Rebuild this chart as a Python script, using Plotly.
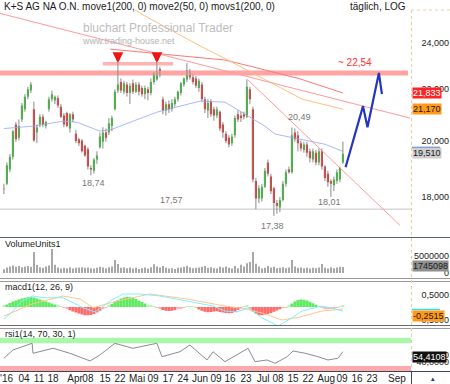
import plotly.graph_objects as go
import numpy as np

W, H = 450, 384
def PX(p): return p / W
def PY(p): return 1 - p / H

# ---------------- data ----------------
opens = [18.28,18.45,18.95,19.40,20.60,20.10,20.80,21.20,21.70,21.95,
         21.20,20.30,20.60,20.90,20.55,21.20,21.60,21.55,21.65,21.30,
         20.95,21.05,20.45,21.00,20.25,20.05,20.00,19.80,19.68,19.00,
         18.90,19.30,19.75,19.95,20.30,20.30,20.55,21.20,21.95,22.30,
         21.90,22.20,21.85,22.25,21.90,22.20,22.05,21.80,22.00,21.85,
         22.30,22.40,22.85,21.60,21.15,21.40,21.20,21.40,21.60,21.85,
         22.20,22.40,22.75,22.50,22.45,22.05,22.20,21.60,21.15,21.50,
         21.20,20.95,21.10,20.60,20.25,20.10,19.90,20.20,21.00,20.95,
         21.00,20.90,22.00,21.20,18.55,17.95,17.95,18.35,19.20,18.70,
         18.30,17.80,17.65,17.90,18.45,18.95,18.85,20.30,20.20,19.90,
         19.65,19.85,19.60,19.30,19.55,19.20,19.60,19.05,18.80,18.55,
         18.40,18.55,18.60,19.20]
highs = [18.45,19.20,19.50,20.40,20.70,20.80,21.45,21.80,22.10,22.30,
         21.50,20.60,21.00,21.00,20.75,21.70,21.95,21.75,21.75,21.40,
         21.05,21.10,21.05,21.10,20.40,20.10,20.05,19.85,19.75,19.10,
         19.35,19.60,20.30,20.50,20.45,20.85,20.95,22.00,23.10,22.45,
         22.35,22.30,22.25,22.40,22.30,22.30,22.15,22.15,22.10,22.45,
         22.70,23.10,22.95,21.70,21.50,21.55,21.60,21.70,21.95,22.30,
         22.50,23.10,22.85,22.60,22.55,22.45,22.30,21.70,21.60,21.60,
         21.30,21.30,21.15,20.70,20.35,20.20,20.25,20.95,21.15,21.10,
         21.10,22.42,22.10,21.30,18.65,18.40,18.45,19.00,19.30,18.80,
         18.35,17.90,18.00,18.55,18.95,19.05,20.49,20.45,20.35,20.00,
         19.95,19.95,19.70,19.70,19.65,19.70,19.70,19.10,18.90,18.60,
         18.70,18.95,19.05,19.96]
lows = [18.10,18.40,18.85,19.30,19.95,20.00,20.70,21.10,21.60,21.85,
        19.95,19.90,20.50,20.50,20.45,21.10,21.50,21.40,21.25,20.85,
        20.50,20.50,20.30,20.70,19.90,19.80,19.55,19.40,18.95,18.74,
        18.80,19.15,19.70,19.70,19.95,20.20,20.35,21.15,21.85,21.85,
        21.80,21.70,21.40,21.80,21.85,21.75,21.70,21.60,21.55,21.75,
        22.20,22.35,22.50,21.00,20.95,21.05,21.10,21.30,21.50,21.75,
        22.10,22.30,22.40,22.20,22.05,21.90,21.50,21.05,20.85,20.90,
        20.75,20.85,20.35,20.10,19.90,19.75,19.80,20.10,20.70,20.70,
        20.80,20.85,21.40,18.50,17.60,17.80,17.85,18.30,18.70,18.10,
        17.38,17.45,17.50,17.85,18.35,18.80,18.80,19.95,19.60,19.60,
        19.55,19.40,19.20,19.20,19.10,19.10,18.95,18.55,18.35,18.01,
        18.20,18.45,18.50,19.15]
closes = [18.26,19.10,19.40,20.35,20.05,20.55,21.35,21.70,22.00,22.20,
          20.00,20.50,20.90,20.60,20.70,21.60,21.80,21.70,21.35,20.90,
          20.60,20.55,21.00,20.80,19.98,19.90,19.60,19.45,19.05,18.95,
          19.30,19.45,20.15,20.30,20.10,20.65,20.85,21.90,22.20,21.95,
          22.25,21.85,22.15,21.90,22.20,21.90,21.80,22.05,21.85,22.30,
          22.60,22.75,22.65,21.15,21.40,21.20,21.45,21.60,21.90,22.25,
          22.45,22.80,22.50,22.30,22.15,22.35,21.60,21.20,21.45,21.00,
          20.95,21.20,20.45,20.30,19.98,19.85,20.15,20.85,20.80,20.85,
          20.90,22.10,21.60,18.60,17.95,18.30,18.35,18.90,18.80,18.20,
          17.80,17.70,17.90,18.45,18.85,18.85,20.20,20.05,19.90,19.70,
          19.85,19.55,19.35,19.60,19.20,19.60,19.05,18.65,18.50,18.45,
          18.60,18.85,19.00,19.51]
volume_mio = [1.1,1.6,1.9,2.2,1.8,2.0,1.7,1.9,2.0,1.8,
              6.0,2.3,1.7,1.5,1.9,2.2,6.9,2.4,1.6,1.3,
              1.5,1.4,1.7,1.3,1.5,1.6,1.7,1.5,1.6,1.4,
              1.3,1.5,1.8,1.6,1.4,1.7,1.9,3.7,2.6,1.5,
              1.7,1.4,1.6,1.3,1.5,1.2,1.4,1.6,1.3,1.7,
              2.5,1.9,1.6,2.0,1.5,1.3,1.4,1.2,1.5,1.6,
              1.8,2.1,1.7,1.4,1.5,1.6,1.8,2.0,1.5,1.7,
              1.4,1.3,1.8,1.6,1.9,1.5,1.3,2.0,1.4,2.4,
              1.9,2.8,3.2,6.0,2.7,1.9,1.3,1.5,2.0,1.6,
              1.8,1.4,1.5,1.7,1.4,1.6,3.7,1.9,1.5,1.6,
              1.4,1.5,1.3,1.5,1.4,1.6,2.6,1.5,1.3,1.7,
              1.4,1.6,1.8,1.745098]
macd_hist = [0.05,0.10,0.16,0.22,0.26,0.30,0.34,0.37,0.39,0.40,
             0.38,0.34,0.30,0.26,0.22,0.18,0.14,0.10,0.06,0.03,
             -0.03,-0.08,-0.13,-0.18,-0.22,-0.26,-0.30,-0.33,-0.33,-0.32,
             -0.28,-0.22,-0.15,-0.08,-0.02,0.05,0.12,0.20,0.28,0.34,
             0.38,0.40,0.39,0.36,0.32,0.26,0.20,0.14,0.08,0.05,
             0.03,-0.03,-0.08,-0.12,-0.15,-0.16,-0.15,-0.12,-0.08,-0.05,
             -0.02,0.02,0.03,0.02,-0.04,-0.10,-0.15,-0.19,-0.21,-0.20,
             -0.18,-0.17,-0.20,-0.22,-0.24,-0.25,-0.24,-0.20,-0.12,-0.04,
             0.04,0.07,-0.05,-0.18,-0.27,-0.32,-0.33,-0.31,-0.28,-0.24,
             -0.19,-0.14,-0.09,-0.04,-0.01,0.06,0.14,0.22,0.28,0.30,
             0.29,0.26,0.21,0.15,0.09,0.03,-0.03,-0.06,-0.07,-0.06,
             -0.05,-0.03,0.03,0.07]

# line studies read as (trading-day index, value) points
ma200_x = [35.4, 48.7, 62.0, 73.7, 82.0, 98.7, 113.0]
ma200_y = [23.71, 23.54, 23.37, 23.23, 22.97, 22.43, 21.85]
ma50_x = [42.0, 47.0, 65.4, 73.7, 99.4, 113.0]
ma50_y = [25.65, 25.22, 23.85, 23.30, 21.60, 21.20]
movs_x = [0, 9.7, 19.7, 24.4, 32, 36, 43, 51, 58.7, 65.4, 73.7, 80.4, 87, 90.4, 95.4, 99.4, 107, 113]
movs_y = [20.45, 20.54, 20.73, 20.69, 20.35, 20.42, 20.73, 21.08, 21.32, 21.52, 21.48, 21.00, 20.54, 20.24, 20.12, 20.05, 19.86, 19.60]
trend1_x, trend1_y = [-1.3, 135.4], [25.34, 20.85]
trend2_x, trend2_y = [81.4, 132.0], [22.38, 17.08]
proj_x = [113.9, 119.7, 121.2, 125.0, 126.0]
proj_y = [19.03, 21.32, 20.50, 22.68, 21.80]
resist_x, resist_y = [-1.3, 134.7], [22.675, 22.675]
resist2_x, resist2_y = [33.0, 56.4], [23.07, 23.07]
support_x, support_y = [-1.3, 135.7], [17.60, 17.60]
arrow_x, arrow_y = [38, 51], [23.10, 23.10]

macd_x = [0, 3, 6, 9.7, 13, 19.7, 26.4, 30.4, 35.4, 39.7, 45.4, 52, 61, 69.7, 73.7, 77.7, 81.4, 86, 91.4, 95.4, 99.4, 106, 113]
macd_y = [-0.49, -0.16, 0.24, 0.44, 0.37, 0.37, -0.03, -0.20, 0.24, 0.52, 0.52, 0.44, 0.24, 0.04, -0.16, -0.20, -0.03, -0.43, -0.76, -0.48, -0.16, 0.04, -0.16]
signal_x = [0, 9.4, 19.7, 25.4, 29.7, 37.7, 48.7, 61, 73.7, 80.4, 86, 92.7, 98.7, 106, 113]
signal_y = [-0.36, 0.12, 0.44, 0.32, -0.03, 0.24, 0.52, 0.32, 0.04, -0.08, -0.24, -0.52, -0.40, -0.16, -0.08]

rsi_x = [0, 3, 9.4, 9.7, 16.4, 22, 28.7, 32, 37, 43, 51, 52.7, 58.7, 62, 67.7, 69.7, 73.7, 78.7, 81.4, 83.7, 87.7, 90.4, 94.4, 96.4, 100.4, 104.7, 108, 111.4, 113]
rsi_y = [45.1, 56.7, 66.1, 52.1, 59.1, 52.1, 41.3, 49.7, 66.1, 59.1, 66.1, 47.3, 54.3, 63.7, 42.7, 54.3, 40.3, 52.1, 59.1, 40.3, 42.7, 38.0, 47.3, 55.3, 52.1, 47.3, 42.7, 45.1, 54.3]

tick_pos = [0.9, 6.7, 11.7, 16.4, 23.7, 28.0, 33.7, 38.7, 44.4, 49.7, 54.7, 59.7, 65.4, 70.7, 75.4, 80.7, 86.4, 91.4, 96.4, 101.4, 107.4, 112.7, 117.7, 122.7, 131.0]
tick_txt = ["'16", "04", "11", "18", "Apr", "08", "15", "22", "Mai", "09", "17", "24", "Jun", "09", "16", "23", "Jul", "08", "15", "22", "Aug", "09", "16", "23", "Sep"]

idx = list(range(len(closes)))

# ---------------- figure ----------------
fig = go.Figure()
FONT = "Liberation Sans, Arial, sans-serif"

def line(x, y, color, width, xa='x', ya='y', opacity=1.0):
    fig.add_trace(go.Scatter(x=x, y=y, mode='lines', line=dict(color=color, width=width),
                             opacity=opacity, xaxis=xa, yaxis=ya, hoverinfo='skip', showlegend=False))

# bands & lines behind candles
line(resist_x, resist_y, '#ffa3a3', 5)
line(resist2_x, resist2_y, '#ffb3b3', 3.5)
line(support_x, support_y, '#c4c4c4', 1)
line(movs_x, movs_y, '#a9b8ff', 1)
line(ma200_x, ma200_y, '#ff7777', 1)
line(ma50_x, ma50_y, '#ffc080', 1)
line(trend1_x, trend1_y, '#ff9a9a', 1)
line(trend2_x, trend2_y, '#ff9a9a', 1)

# wicks
wx, wy = [], []
for i, (h, l) in enumerate(zip(highs, lows)):
    wx += [i, i, None]
    wy += [l, h, None]
line(wx, wy, '#8a8a8a', 1)

# bodies
fig.add_trace(go.Candlestick(
    x=idx, open=opens, close=closes,
    high=[max(o, c) for o, c in zip(opens, closes)],
    low=[min(o, c) for o, c in zip(opens, closes)],
    increasing=dict(fillcolor='#1fcc1f', line=dict(color='#1fcc1f', width=0)),
    decreasing=dict(fillcolor='#ee1a1a', line=dict(color='#ee1a1a', width=0)),
    whiskerwidth=0, xaxis='x', yaxis='y', showlegend=False, hoverinfo='skip'))

# projection
line(proj_x, proj_y, '#2436c0', 2.2)

# volume
fig.add_trace(go.Bar(x=idx, y=[v * 1e6 for v in volume_mio], width=0.34,
                     marker=dict(color='#a8a8a8', line=dict(width=0)),
                     xaxis='x2', yaxis='y2', showlegend=False, hoverinfo='skip'))

# macd
hcol = []
for v in macd_hist:
    if v >= 0:
        hcol.append('#5eea5e' if v >= 0.09 else '#b4f7b4')
    else:
        hcol.append('#ff6b6b' if v <= -0.09 else '#ffb0b0')
fig.add_trace(go.Bar(x=idx, y=macd_hist, width=1.0, marker=dict(color=hcol, line=dict(width=0)),
                     xaxis='x3', yaxis='y3', showlegend=False, hoverinfo='skip'))
line(signal_x, signal_y, '#ffc68a', 1, 'x3', 'y3')
line(macd_x, macd_y, '#7ff0ff', 1, 'x3', 'y3')

# rsi
line([-1.3, 135.7], [70, 70], '#aaf7aa', 5.5, 'x4', 'y4')
line([-1.3, 135.7], [30, 30], '#ffaaaa', 6, 'x4', 'y4')
line(rsi_x, rsi_y, '#8c8c8c', 1, 'x4', 'y4')

xr = [-1.3, 135.7]
xdom = [0, 411 / W]
common_x = dict(range=xr, domain=xdom, showgrid=False, zeroline=False, showline=False,
                fixedrange=True, automargin=False)
ax_font = dict(family=FONT, size=9, color='#222')
common_y = dict(anchor='free', position=1, side='left', showgrid=False, zeroline=False, ticks='',
                tickmode='array', tickfont=ax_font, automargin=False, ticklabelstandoff=1)

fig.update_layout(
    width=W, height=H, margin=dict(l=0, r=0, t=0, b=0, autoexpand=False),
    paper_bgcolor='white', plot_bgcolor='white',
    boxgap=0.3, boxgroupgap=0.0, barmode='overlay',
    xaxis=dict(**common_x, anchor='y', showticklabels=False, rangeslider=dict(visible=False)),
    xaxis2=dict(**common_x, anchor='y2', matches='x', showticklabels=False),
    xaxis3=dict(**common_x, anchor='y3', matches='x', showticklabels=False),
    xaxis4=dict(**common_x, anchor='y4', matches='x', tickmode='array', tickvals=tick_pos,
                ticktext=tick_txt, ticks='', tickangle=0, ticklabeloverflow='allow',
                tickfont=dict(family=FONT, size=10, color='#222')),
    yaxis=dict(**common_y, domain=[PY(237), PY(10)], type='log',
               range=[np.log10(16.71), np.log10(25.5)], tickvals=[18, 20, 22, 24],
               ticktext=['18,000', '20,000', '22,000', '24,000']),
    yaxis2=dict(**common_y, domain=[PY(278), PY(238)], range=[-1.39e6, 10e6],
                tickvals=[0, 5e6], ticktext=['0', '5000000']),
    yaxis3=dict(**common_y, domain=[PY(325), PY(281)], range=[-0.72, 1.04],
                tickvals=[-0.5, 0.5], ticktext=['-0,5000', '0,5000']),
    yaxis4=dict(**common_y, domain=[PY(371), PY(328)], range=[27.2, 87.6],
                tickvals=[40, 50], ticktext=['40,0000', '50,0000']),
)

shapes = []
def hl(y, color, width=1, x0=0, x1=1, dash='solid'):
    shapes.append(dict(type='line', xref='paper', yref='paper', x0=x0, x1=x1, y0=PY(y), y1=PY(y),
                       line=dict(color=color, width=width, dash=dash)))
hl(237.5, '#5a6478')
hl(278.5, '#9a9a9a')
hl(281.5, '#9a9a9a')
hl(325.5, '#6a6a6a')
hl(328.5, '#9a9a9a')
hl(371.5, '#3c4660')
hl(10, '#e6d7a3', 1, PX(411), 1, 'dot')
shapes.append(dict(type='line', xref='paper', yref='paper', x0=PX(411.5), x1=PX(411.5), y0=PY(10), y1=PY(371),
                   line=dict(color='#e2d29a', width=1, dash='dot')))
shapes.append(dict(type='line', xref='paper', yref='paper', x0=PX(411.5), x1=PX(411.5), y0=PY(371), y1=PY(384),
                   line=dict(color='#3c4660', width=1)))
# value markers on axis
hl(147.5, '#3a6fd8', 1.5, PX(412), PX(440))
hl(309.5, '#33e0f0', 1.5, PX(412), PX(440))
fig.update_layout(shapes=shapes)

ann = []
def txt(t, x, y, size=9, color='#777', xanchor='center', yanchor='middle', **kw):
    ann.append(dict(text=t, x=PX(x), y=PY(y), xref='paper', yref='paper', showarrow=False,
                    xanchor=xanchor, yanchor=yanchor, font=dict(family=FONT, size=size, color=color), **kw))

txt('K+S AG NA O.N. move1(200, 0) move2(50, 0) movs1(200, 0)', 2, 7, 10, '#1a1a1a', 'left')
txt('täglich, LOG', 408, 7, 10, '#1a1a1a', 'right')
txt('bluchart Professional Trader', 81, 27.5, 12, '#bdbdbd', 'left')
txt('www.trading-house.net', 80, 40.5, 9, '#b3b3b3', 'left')
txt('18,74', 93.5, 182.5)
txt('17,57', 171, 199.5)
txt('17,38', 272.5, 225.5)
txt('18,01', 329.5, 201.5)
txt('20,49', 299, 117)
txt('~ 22,54', 355, 62.5, 10, '#ff3333')
txt('VolumeUnits1', 3, 243.5, 9, '#1a1a1a', 'left')
txt('macd1(12, 26, 9)', 3, 286.5, 9, '#1a1a1a', 'left')
txt('rsi1(14, 70, 30, 1)', 3, 333.5, 9, '#1a1a1a', 'left')

def box(t, y, bg, fg, x=412):
    ann.append(dict(text=t, x=PX(x), y=PY(y), xref='paper', yref='paper', showarrow=False,
                    xanchor='left', yanchor='middle', bgcolor=bg, borderpad=0,
                    font=dict(family=FONT, size=9, color=fg)))
box('21,833', 92.8, '#ff2424', 'white')
box('21,170', 109.3, '#ff9a1a', '#1a1a1a')
box('19,510', 153.3, '#cfcfcf', '#1a1a1a')
box('1745098', 265.8, '#8f8f8f', '#1a1a1a')
box('-0,2515', 315.8, '#ff9a1a', '#1a1a1a')
box('54,4108', 357, '#111111', 'white')
txt('▴', 433, 378, 7, '#22308a')

for ax_, ay_ in zip(arrow_x, arrow_y):
    ann.append(dict(x=ax_, y=np.log10(ay_), xref='x', yref='y', text='', showarrow=True,
                    arrowhead=2, arrowsize=0.62, arrowwidth=3.5, arrowcolor='#ee1515', ax=0, ay=-11))
fig.update_layout(annotations=ann)

fig.write_html('out.html')
